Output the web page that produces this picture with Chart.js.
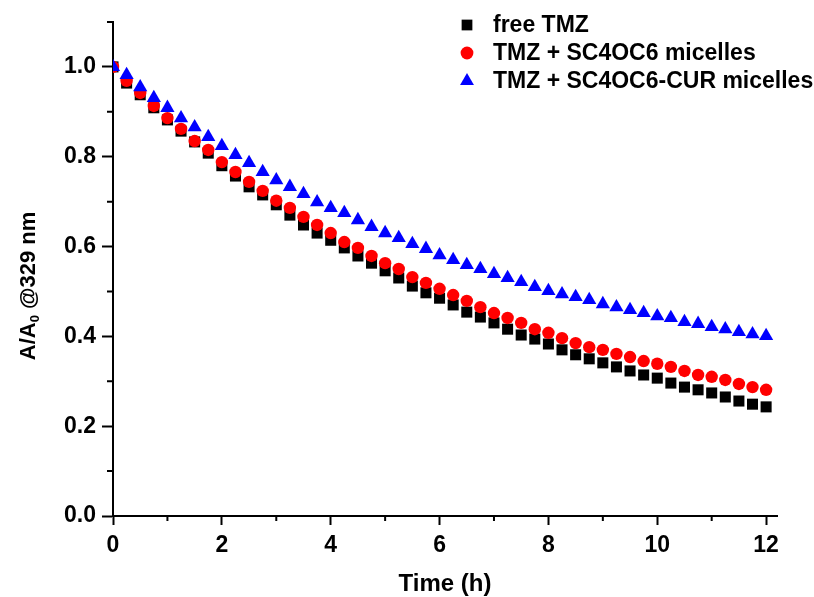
<!DOCTYPE html>
<html><head><meta charset="utf-8">
<script src="https://cdn.jsdelivr.net/npm/chart.js@4.4.1/dist/chart.umd.min.js"></script>
<style>html,body{margin:0;padding:0;background:#fff;overflow:hidden}#wrap{width:814px;height:597px;position:relative}</style>
</head><body><div id="wrap"><canvas id="c" width="814" height="597"></canvas></div>
<script>
const timeHours = [0,0.25,0.5,0.75,1,1.25,1.5,1.75,2,2.25,2.5,2.75,3,3.25,3.5,3.75,4,4.25,4.5,4.75,5,5.25,5.5,5.75,6,6.25,6.5,6.75,7,7.25,7.5,7.75,8,8.25,8.5,8.75,9,9.25,9.5,9.75,10,10.25,10.5,10.75,11,11.25,11.5,11.75,12];
const freeTMZ = [1.000,0.964,0.938,0.909,0.882,0.857,0.833,0.808,0.780,0.757,0.733,0.715,0.693,0.670,0.648,0.630,0.614,0.597,0.579,0.563,0.546,0.530,0.512,0.497,0.485,0.470,0.454,0.443,0.430,0.416,0.403,0.394,0.383,0.370,0.359,0.350,0.341,0.332,0.323,0.314,0.307,0.296,0.287,0.281,0.274,0.265,0.256,0.249,0.243];
const tmzSC4OC6 = [1.000,0.969,0.942,0.913,0.886,0.862,0.835,0.815,0.788,0.766,0.744,0.724,0.702,0.686,0.666,0.648,0.630,0.610,0.597,0.579,0.563,0.550,0.532,0.519,0.506,0.492,0.479,0.465,0.452,0.441,0.430,0.416,0.408,0.396,0.385,0.376,0.370,0.361,0.354,0.345,0.339,0.332,0.323,0.314,0.310,0.303,0.294,0.287,0.281];
const tmzSC4OC6CUR = [1.000,0.982,0.955,0.931,0.909,0.886,0.866,0.844,0.824,0.804,0.786,0.766,0.748,0.733,0.717,0.699,0.686,0.675,0.659,0.644,0.630,0.619,0.606,0.595,0.581,0.570,0.559,0.550,0.539,0.530,0.521,0.510,0.501,0.494,0.488,0.481,0.472,0.465,0.459,0.452,0.445,0.441,0.432,0.428,0.421,0.416,0.410,0.405,0.401];
const seriesLabels = ['free TMZ','TMZ + SC4OC6 micelles','TMZ + SC4OC6-CUR micelles'];
const xMinorTicks = [1,3,5,7,9,11];
const yMinorTicks = [0.1,0.3,0.5,0.7,0.9,1.1];
const xTitle = 'Time (h)';
const yTitleParts = ['A/A', '0', ' @329 nm'];

const FONT = "'Liberation Sans', Arial, sans-serif";
const styles = [
  {color:'#000000', pointStyle:'rect', radius:7.8, legendRadius:7.6},
  {color:'#ff0000', pointStyle:'circle', radius:6.2, legendRadius:6.4},
  {color:'#0000ff', pointStyle:'triangle', radius:8.2, legendRadius:8}
];
const seriesValues = [freeTMZ, tmzSC4OC6, tmzSC4OC6CUR];

const datasets = seriesValues.map((vals, i) => ({
  label: seriesLabels[i],
  data: timeHours.map((t, j) => ({x: t, y: vals[j]})),
  showLine: false,
  pointStyle: styles[i].pointStyle,
  pointRadius: styles[i].radius,
  pointBackgroundColor: styles[i].color,
  pointBorderColor: styles[i].color,
  pointBorderWidth: 0,
  order: 2 - i
}));

const minorTicksPlugin = {
  id: 'minorTicks',
  afterDraw(chart) {
    const ctx = chart.ctx, xs = chart.scales.x, ys = chart.scales.y;
    ctx.save();
    ctx.strokeStyle = '#000';
    ctx.lineWidth = 2;
    ctx.beginPath();
    xMinorTicks.forEach(v => { const px = xs.getPixelForValue(v); ctx.moveTo(px, ys.bottom); ctx.lineTo(px, ys.bottom + 5); });
    yMinorTicks.forEach(v => { const py = ys.getPixelForValue(v); ctx.moveTo(xs.left, py); ctx.lineTo(xs.left - 6, py); });
    ctx.stroke();
    ctx.restore();
  }
};

const yTitlePlugin = {
  id: 'yTitle',
  afterDraw(chart) {
    const ctx = chart.ctx;
    ctx.save();
    ctx.translate(27, 286);
    ctx.rotate(-Math.PI / 2);
    ctx.fillStyle = '#000';
    ctx.textBaseline = 'alphabetic';
    ctx.textAlign = 'left';
    const big = "bold 22px " + FONT, small = "bold 13px " + FONT;
    ctx.font = big; const w0 = ctx.measureText(yTitleParts[0]).width, w2 = ctx.measureText(yTitleParts[2]).width;
    ctx.font = small; const w1 = ctx.measureText(yTitleParts[1]).width;
    let x = -(w0 + w1 + w2) / 2;
    const base = 8;
    ctx.font = big; ctx.fillText(yTitleParts[0], x, base); x += w0;
    ctx.font = small; ctx.fillText(yTitleParts[1], x, base + 4); x += w1;
    ctx.font = big; ctx.fillText(yTitleParts[2], x, base);
    ctx.restore();
  }
};

const legendPlugin = {
  id: 'customLegend',
  afterDraw(chart) {
    const ctx = chart.ctx;
    ctx.save();
    const x0 = 467, tx = 493, ys0 = [25, 53, 81];
    ctx.font = "bold 23px " + FONT;
    ctx.textBaseline = 'middle';
    seriesLabels.forEach((lab, i) => {
      ctx.fillStyle = styles[i].color;
      ctx.strokeStyle = styles[i].color;
      Chart.helpers.drawPoint(ctx, {pointStyle: styles[i].pointStyle, radius: styles[i].legendRadius, borderWidth: 0}, x0, ys0[i]);
      ctx.fillStyle = '#000';
      ctx.fillText(lab, tx, ys0[i] + 1);
    });
    ctx.restore();
  }
};

new Chart(document.getElementById('c'), {
  type: 'scatter',
  data: { datasets },
  options: {
    responsive: false,
    animation: false,
    devicePixelRatio: 1,
    layout: { padding: { top: 22, right: 37, left: 0, bottom: 0 } },
    plugins: { legend: { display: false }, tooltip: { enabled: false } },
    scales: {
      x: {
        type: 'linear', min: 0, max: 12.2,
        afterFit(scale) { scale.height = 81; },
        border: { color: '#000', width: 2 },
        grid: { drawOnChartArea: false, drawTicks: true, tickLength: 9, tickColor: '#000', tickWidth: 2 },
        ticks: { stepSize: 2, includeBounds: false, autoSkip: false, maxRotation: 0, padding: 7,
          color: '#000', font: { family: FONT, size: 23, weight: 'bold' },
          callback: v => String(v) },
        title: { display: true, text: xTitle, color: '#000', font: { family: FONT, size: 24, weight: 'bold', lineHeight: 1 }, padding: { top: 0, bottom: 1 } }
      },
      y: {
        type: 'linear', min: 0, max: 1.1,
        afterFit(scale) { scale.width = 113; },
        border: { color: '#000', width: 2 },
        grid: { drawOnChartArea: false, drawTicks: true, tickLength: 11, tickColor: '#000', tickWidth: 2 },
        ticks: { stepSize: 0.2, includeBounds: false, autoSkip: false, padding: 6,
          color: '#000', font: { family: FONT, size: 23, weight: 'bold' },
          callback: v => Number(v).toFixed(1) },
        title: { display: false }
      }
    }
  },
  plugins: [minorTicksPlugin, yTitlePlugin, legendPlugin]
});
</script>
</body></html>
